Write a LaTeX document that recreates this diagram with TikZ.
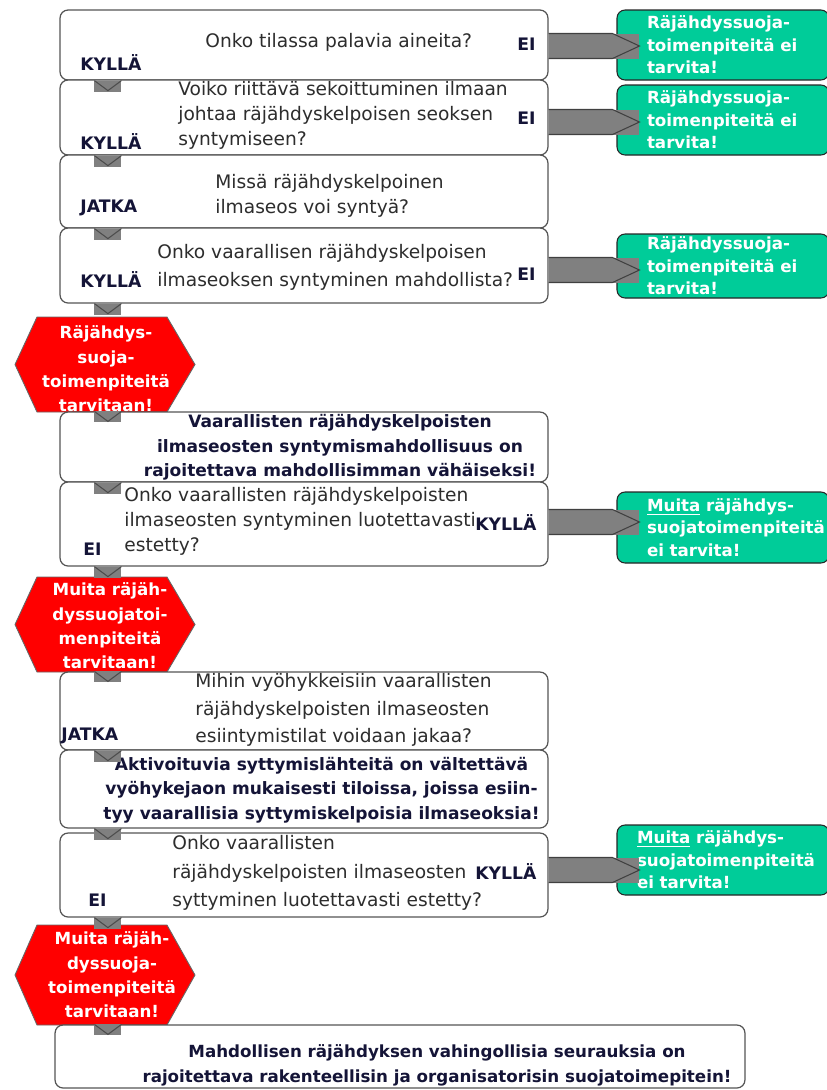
\documentclass[tikz,border=0pt]{standalone}
\usepackage{fontspec}
\setmainfont{DejaVu Sans}
\usetikzlibrary{calc}
\definecolor{okgreen}{RGB}{0,204,153}
\definecolor{stopred}{RGB}{255,0,0}
\definecolor{arrowgray}{RGB}{128,128,128}
\definecolor{boxline}{RGB}{85,85,85}
\definecolor{qtextc}{RGB}{45,45,45}
\definecolor{labelc}{RGB}{20,20,55}
\hyphenpenalty=10000
\exhyphenpenalty=10000
\newcommand{\qfont}{\fontsize{10.6}{14.3}\selectfont}
\newcommand{\ansfont}{\fontsize{9.8}{12}\selectfont\bfseries}
\newcommand{\statefont}{\fontsize{9.7}{13.9}\selectfont\bfseries}
\newcommand{\okfont}{\fontsize{9.5}{12.8}\selectfont\bfseries}
\newcommand{\hexfont}{\fontsize{9.5}{13.9}\selectfont\bfseries}
% small gray down-chevron between two steps
\newcommand{\flowmark}[1]{%
  \fill[arrowgray] #1 rectangle ++(27,11);
  \draw[markline] #1 -- ++(13.5,10) -- ++(13.5,-10);
}
% gray block arrow: from question box, to green box, vertical shift
\newcommand{\sidearrow}[3]{%
  \coordinate (sa-from) at ($(#1.east)+(0,#3)$);
  \coordinate (sa-tip) at (sa-from -| #2.west);
  \fill[arrowgray] ($(sa-from)+(0,-12.5)$) rectangle ($(sa-tip)+(23,12.5)$);
  \draw[arrowline] ($(sa-from)+(0,-12.5)$) -- ($(sa-tip)+(-4,-12.5)$) -- ($(sa-tip)+(23,0)$) -- ($(sa-tip)+(-4,12.5)$) -- ($(sa-from)+(0,12.5)$);
}

\begin{document}
\begin{tikzpicture}[x=0.02cm,y=-0.02cm,
  qbox/.style={draw=boxline,line width=0.7pt,fill=white,rounded corners=0.16cm,inner sep=0,minimum width=9.76cm},
  okbox/.style={draw=black!85,line width=0.6pt,fill=okgreen,rounded corners=0.16cm,text=white,font=\okfont,
    align=left,text width=3.04cm,inner xsep=0.6cm,inner ysep=0,minimum height=1.4cm},
  qtext/.style={anchor=west,align=left,inner sep=0,text=qtextc,font=\qfont},
  anslabel/.style={anchor=west,inner sep=0,text=labelc,font=\ansfont},
  ruletext/.style={align=center,inner sep=0,text=labelc,font=\statefont},
  hextext/.style={align=center,inner sep=0,text=white,font=\hexfont},
  stopshape/.style={fill=stopred,draw=black!60,line width=0.5pt},
  markline/.style={draw=black!70,line width=0.6pt},
  arrowline/.style={draw=black!75,line width=0.6pt}]
\useasboundingbox (0,0) rectangle (827,1090);
% red hexagons
\foreach \cy/\hh in {364.5/47.5,624.5/47.5,975/50}
  \filldraw[stopshape,shift={(105,\cy)}] (-90,0) -- (-68,-\hh) -- (62,-\hh) -- (90,0) -- (62,\hh) -- (-68,\hh) -- cycle;
\node[hextext] (stop1) at (106,369) {Räjähdys-\\suoja-\\toimenpiteitä\\tarvitaan!};
\node[hextext] (stop2) at (110,626) {Muita räjäh-\\dyssuojatoi-\\menpiteitä\\tarvitaan!};
\node[hextext] (stop3) at (112,975) {Muita räjäh-\\dyssuoja-\\toimenpiteitä\\tarvitaan!};
% question and rule boxes
\node[qbox,minimum height=1.4cm] (q1) at (304,45) {};
\node[qbox,minimum height=1.5cm] (q2) at (304,117.5) {};
\node[qbox,minimum height=1.46cm] (q3) at (304,191.5) {};
\node[qbox,minimum height=1.5cm] (q4) at (304,265.5) {};
\node[qbox,minimum height=1.4cm] (q5) at (304,447) {};
\node[qbox,minimum height=1.68cm] (q6) at (304,524) {};
\node[qbox,minimum height=1.56cm] (q7) at (304,711) {};
\node[qbox,minimum height=1.56cm] (q8) at (304,789) {};
\node[qbox,minimum height=1.68cm] (q9) at (304,875) {};
\node[qbox,minimum width=13.8cm,minimum height=1.26cm] (q10) at (400,1056.5) {};
% texts
\node[qtext] (q1txt) at (205,42) {Onko tilassa palavia aineita?};
\node[anslabel] (q1yes) at (80,63) {KYLLÄ};
\node[anslabel] (q1no) at (517,44) {EI};
\node[qtext] (q2txt) at (178,115) {Voiko riittävä sekoittuminen ilmaan\\johtaa räjähdyskelpoisen seoksen\\syntymiseen?};
\node[anslabel] (q2yes) at (80,142) {KYLLÄ};
\node[anslabel] (q2no) at (517,118) {EI};
\node[qtext] (q3txt) at (215,196) {Missä räjähdyskelpoinen\\ilmaseos voi syntyä?};
\node[anslabel] (q3go) at (80,208) {JATKA};
\node[qtext,font=\fontsize{10.6}{16}\selectfont] (q4txt) at (157,267) {Onko vaarallisen räjähdyskelpoisen\\ilmaseoksen syntyminen mahdollista?};
\node[anslabel] (q4yes) at (80,280) {KYLLÄ};
\node[anslabel] (q4no) at (517,274) {EI};
\node[ruletext] (q5txt) at (340,447.5) {Vaarallisten räjähdyskelpoisten\\ilmaseosten syntymismahdollisuus on\\rajoitettava mahdollisimman vähäiseksi!};
\node[qtext] (q6txt) at (124,521.5) {Onko vaarallisten räjähdyskelpoisten\\ilmaseosten syntyminen luotettavasti\\estetty?};
\node[anslabel] (q6yes) at (475,523) {KYLLÄ};
\node[anslabel] (q6no) at (83,549) {EI};
\node[qtext,font=\fontsize{10.6}{15.8}\selectfont] (q7txt) at (195,710) {Mihin vyöhykkeisiin vaarallisten\\räjähdyskelpoisten ilmaseosten\\esiintymistilat voidaan jakaa?};
\node[anslabel] (q7go) at (61,736) {JATKA};
\node[ruletext] (q8txt) at (321.5,790) {Aktivoituvia syttymislähteitä on vältettävä\\vyöhykejaon mukaisesti tiloissa, joissa esiin-\\tyy vaarallisia syttymiskelpoisia ilmaseoksia!};
\node[qtext,font=\fontsize{10.6}{16.2}\selectfont] (q9txt) at (172,873) {Onko vaarallisten\\räjähdyskelpoisten ilmaseosten\\syttyminen luotettavasti estetty?};
\node[anslabel] (q9yes) at (475,872) {KYLLÄ};
\node[anslabel] (q9no) at (88,900) {EI};
\node[ruletext,font=\fontsize{9.5}{14.2}\selectfont\bfseries] (q10txt) at (437,1065.5) {Mahdollisen räjähdyksen vahingollisia seurauksia on\\rajoitettava rakenteellisin ja organisatorisin suojatoimepitein!};
% green end boxes
\node[okbox] (ok1) at (723,45) {Räjähdyssuoja-\\toimenpiteitä ei\\tarvita!};
\node[okbox] (ok2) at (723,120) {Räjähdyssuoja-\\toimenpiteitä ei\\tarvita!};
\node[okbox,minimum height=1.28cm] (ok3) at (723,266) {Räjähdyssuoja-\\toimenpiteitä ei\\tarvita!};
\node[okbox,minimum height=1.42cm] (ok4) at (723,527.5) {\underline{Muita} räjähdys-\\suojatoimenpiteitä\\ei tarvita!};
\node[okbox,text width=3.44cm,inner xsep=0.4cm] (ok5) at (723,860) {\underline{Muita} räjähdys-\\suojatoimenpiteitä\\ei tarvita!};
% side arrows
\sidearrow{q1}{ok1}{1}
\sidearrow{q2}{ok2}{4.5}
\sidearrow{q4}{ok3}{4.5}
\sidearrow{q6}{ok4}{-2}
\sidearrow{q9}{ok5}{-5}
% down chevrons
\flowmark{($(q1.south west)+(35,0)$)}
\flowmark{($(q2.south west)+(35,0)$)}
\flowmark{($(q3.south west)+(35,0)$)}
\flowmark{($(q4.south west)+(35,0)$)}
\flowmark{($(q5.north west)+(35,0)$)}
\flowmark{($(q5.south west)+(35,0)$)}
\flowmark{($(q6.south west)+(35,0)$)}
\flowmark{($(q7.north west)+(35,0)$)}
\flowmark{($(q7.south west)+(35,0)$)}
\flowmark{($(q8.south west)+(35,0)$)}
\flowmark{($(q9.south west)+(35,0)$)}
\flowmark{($(q10.north west)+(40,0)$)}
\end{tikzpicture}
\end{document}
